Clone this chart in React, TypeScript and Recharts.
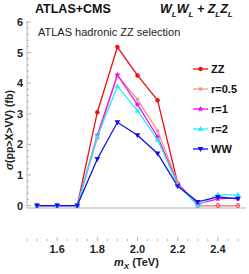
import { LineChart, Line, XAxis, YAxis } from "recharts";

const masses = [1.5, 1.6, 1.7, 1.8, 1.9, 2.0, 2.1, 2.2, 2.3, 2.4, 2.5];
const zzVals = [0, 0, 0, 3.05, 5.18, 4.25, 3.44, 0.72, 0, 0, 0];
const r05Vals = [0, 0, 0, 2.2, 4.25, 3.47, 2.44, 0.75, 0, 0, 0];
const r1Vals = [0, 0, 0, 2.3, 4.27, 3.3, 2.25, 0.7, 0.05, 0.22, 0.25];
const r2Vals = [0, 0, 0, 2.25, 3.9, 3.1, 2.15, 0.68, 0, 0.35, 0.35];
const wwVals = [0, 0, 0, 1.52, 2.72, 2.3, 1.7, 0.63, 0.12, 0.28, 0.22];

const xMajor = [1.6, 1.8, 2.0, 2.2, 2.4];
const yMajor = [0, 1, 2, 3, 4, 5, 6];

const W = 249;
const H = 274;
const PL = 27;
const PT = 21;
const PR = 246;
const PB = 241;
const AXIS = "#b4b4b4";
const FONT = "'Liberation Sans', Arial, sans-serif";

const data = masses.map((m, i) => ({
  m,
  zz: zzVals[i],
  r05: r05Vals[i],
  r1: r1Vals[i],
  r2: r2Vals[i],
  ww: wwVals[i],
}));

const xTicks: number[] = [];
for (let i = 0; i <= 21; i++) xTicks.push(Math.round((1.45 + i * 0.05) * 100) / 100);
const yTicks: number[] = [];
for (let i = 0; i <= 30; i++) yTicks.push(Math.round(i * 0.2 * 10) / 10);

const isMajor = (v: number, majors: number[]) => majors.some((t) => Math.abs(t - v) < 1e-6);

function BottomTick(props: any) {
  const { x, payload } = props;
  const major = isMajor(payload.value, xMajor);
  return (
    <g>
      <line x1={x} x2={x} y1={PB} y2={PB - (major ? 4 : 2)} stroke={AXIS} />
      {major && (
        <text x={x} y={PB + 12} textAnchor="middle" fontSize={11} fontWeight="bold" fontFamily={FONT} fill="#222">
          {payload.value.toFixed(1)}
        </text>
      )}
    </g>
  );
}

function TopTick(props: any) {
  const { x, payload } = props;
  const major = isMajor(payload.value, xMajor);
  return <line x1={x} x2={x} y1={PT} y2={PT + (major ? 4 : 2)} stroke={AXIS} />;
}

function LeftTick(props: any) {
  const { y, payload } = props;
  const major = isMajor(payload.value, yMajor);
  return (
    <g>
      <line x1={PL} x2={PL + (major ? 4 : 2)} y1={y} y2={y} stroke={AXIS} />
      {major && (
        <text x={PL - 4} y={y + 4} textAnchor="end" fontSize={11} fontWeight="bold" fontFamily={FONT} fill="#222">
          {payload.value}
        </text>
      )}
    </g>
  );
}

function RightTick(props: any) {
  const { y, payload } = props;
  const major = isMajor(payload.value, yMajor);
  return <line x1={PR} x2={PR - (major ? 4 : 2)} y1={y} y2={y} stroke={AXIS} />;
}

function Marker({ cx, cy, shape, color }: any) {
  if (cx == null || cy == null) return null;
  const r = 2.2;
  if (shape === "circle") return <circle cx={cx} cy={cy} r={r} fill={color} />;
  if (shape === "square")
    return <rect x={cx - 1.6} y={cy - 1.6} width={3.2} height={3.2} fill={color} />;
  if (shape === "star")
    return (
      <polygon
        points={`${cx},${cy - 3} ${cx + 1},${cy - 1} ${cx + 3},${cy - 1} ${cx + 1.4},${cy + 0.6} ${cx + 2},${cy + 2.8} ${cx},${cy + 1.5} ${cx - 2},${cy + 2.8} ${cx - 1.4},${cy + 0.6} ${cx - 3},${cy - 1} ${cx - 1},${cy - 1}`}
        fill={color}
      />
    );
  if (shape === "up")
    return <polygon points={`${cx},${cy - 3} ${cx + 2.8},${cy + 2} ${cx - 2.8},${cy + 2}`} fill={color} />;
  return <polygon points={`${cx},${cy + 3} ${cx + 2.8},${cy - 2} ${cx - 2.8},${cy - 2}`} fill={color} />;
}

const series = [
  { key: "zz", name: "ZZ", color: "#f01010", shape: "circle" },
  { key: "r05", name: "r=0.5", color: "#f89090", shape: "square" },
  { key: "r1", name: "r=1", color: "#f010f0", shape: "star" },
  { key: "r2", name: "r=2", color: "#20f0f0", shape: "up" },
  { key: "ww", name: "WW", color: "#1010e8", shape: "down" },
];

function LegendBox() {
  return (
    <svg width={56} height={100} style={{ position: "absolute", left: 191, top: 61 }}>
      {series.map((s, i) => {
        const y = 8 + i * 20;
        return (
          <g key={s.key}>
            <line x1={2} x2={17} y1={y} y2={y} stroke={s.color} strokeWidth={1.3} />
            <Marker cx={9.5} cy={y} shape={s.shape} color={s.color} />
            <text x={20} y={y + 4} fontSize={11} fontWeight="bold" fontFamily={FONT} fill="#111">
              {s.name}
            </text>
          </g>
        );
      })}
    </svg>
  );
}

export default function App() {
  return (
    <div style={{ position: "fixed", left: 0, top: 0, width: W, height: H, background: "#fff", fontFamily: FONT }}>
      <LineChart width={W} height={H} data={data} margin={{ top: PT, right: W - PR, bottom: H - PB, left: 0 }}>
        <XAxis
          dataKey="m"
          type="number"
          domain={[1.45, 2.54]}
          ticks={xTicks}
          interval={0}
          height={H - PB}
          stroke={AXIS}
          tickLine={false}
          tick={<BottomTick />}
        />
        <XAxis
          xAxisId="top"
          dataKey="m"
          type="number"
          orientation="top"
          domain={[1.45, 2.54]}
          ticks={xTicks}
          interval={0}
          height={0}
          stroke={AXIS}
          tickLine={false}
          tick={<TopTick />}
        />
        <YAxis
          type="number"
          domain={[-0.08, 6.03]}
          ticks={yTicks}
          interval={0}
          width={PL}
          stroke={AXIS}
          tickLine={false}
          tick={<LeftTick />}
        />
        <YAxis
          yAxisId="right"
          orientation="right"
          type="number"
          domain={[-0.08, 6.03]}
          ticks={yTicks}
          interval={0}
          width={0}
          stroke={AXIS}
          tickLine={false}
          tick={<RightTick />}
        />
        {series.map((s) => (
          <Line
            key={s.key}
            dataKey={s.key}
            name={s.name}
            stroke={s.color}
            strokeWidth={1.3}
            isAnimationActive={false}
            dot={(p: any) => <Marker key={`${s.key}-${p.index}`} cx={p.cx} cy={p.cy} shape={s.shape} color={s.color} />}
          />
        ))}
      </LineChart>
      <LegendBox />
      <div style={{ position: "absolute", left: 35, top: 1, fontSize: 12.5, fontWeight: "bold", color: "#111", lineHeight: "16px" }}>
        ATLAS+CMS
      </div>
      <div style={{ position: "absolute", left: 160, top: 1, fontSize: 12.5, fontWeight: "bold", fontStyle: "italic", color: "#111", lineHeight: "16px", whiteSpace: "nowrap" }}>
        W<sub style={{ fontSize: 8, lineHeight: 0 }}>L</sub>W<sub style={{ fontSize: 8, lineHeight: 0 }}>L</sub> + Z<sub style={{ fontSize: 8, lineHeight: 0 }}>L</sub>Z<sub style={{ fontSize: 8, lineHeight: 0 }}>L</sub>
      </div>
      <div style={{ position: "absolute", left: 38, top: 26, fontSize: 11, color: "#222", lineHeight: "13px" }}>
        ATLAS hadronic ZZ selection
      </div>
      <div
        style={{
          position: "absolute",
          left: 9,
          top: 130,
          transform: "translate(-50%, -50%) rotate(-90deg)",
          whiteSpace: "nowrap",
          fontSize: 10.5,
          fontWeight: "bold",
          color: "#222",
          lineHeight: "12px",
        }}
      >
        <i>σ</i>(pp&gt;X&gt;VV) (fb)
      </div>
      <div style={{ position: "absolute", left: 114, top: 256, fontSize: 11, fontWeight: "bold", color: "#222", whiteSpace: "nowrap", lineHeight: "12px" }}>
        <i>m</i>
        <sub style={{ fontSize: 8, fontStyle: "italic", lineHeight: 0 }}>X</sub> (TeV)
      </div>
    </div>
  );
}
